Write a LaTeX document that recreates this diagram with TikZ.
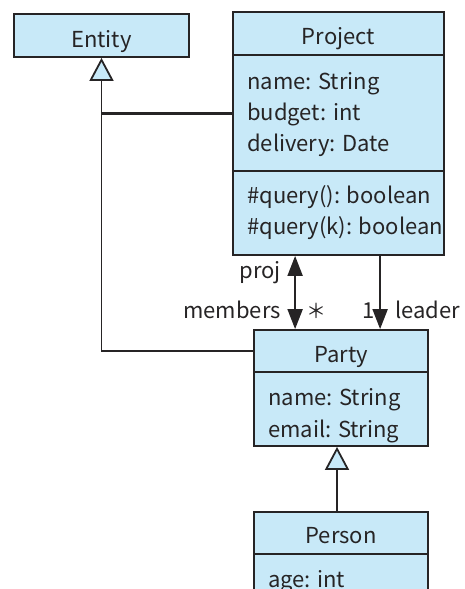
\documentclass[tikz,border=0pt]{standalone}
\usepackage{fontspec}
\setmainfont{Noto Sans CJK JP}
\usetikzlibrary{arrows.meta,calc}
\definecolor{boxfill}{HTML}{C8E9F8}
\definecolor{ink}{HTML}{262425}
\tikzset{
  umlbox/.style={draw=ink, fill=boxfill, line width=1.8pt, rectangle, inner sep=0pt},
  txt/.style={inner sep=0pt, text=ink, font=\fontsize{22}{26}\selectfont},
  lbl/.style={txt, anchor=base},
  attr/.style={txt, anchor=base west},
  gen/.style={draw=ink, line width=1.8pt,
    -{Triangle[width=24pt,length=23pt,fill=boxfill,line width=1.8pt]}},
  assoc/.style={draw=ink, line width=2pt},
  headtip/.tip={Triangle[length=20pt,width=15pt]},
}
\begin{document}
\begin{tikzpicture}[x=1pt,y=-1pt]
\useasboundingbox (0,0) rectangle (465,589);
\clip (0,0) rectangle (465,589);

% class boxes
\node[umlbox, minimum width=175pt, minimum height=43pt] (entity) at (101.5,35.5) {};
\node[umlbox, minimum width=211pt, minimum height=43pt] (projH) at (338.5,33.5) {};
\node[umlbox, minimum width=211pt, minimum height=116pt] (projA) at (338.5,113) {};
\node[umlbox, minimum width=211pt, minimum height=84pt] (projO) at (338.5,213) {};
\node[umlbox, minimum width=174pt, minimum height=42pt] (partyH) at (341,351) {};
\node[umlbox, minimum width=174pt, minimum height=74pt] (partyA) at (341,409) {};
\node[umlbox, minimum width=174pt, minimum height=42pt] (personH) at (341,533) {};
\node[umlbox, minimum width=174pt, minimum height=66pt] (personA) at (341,587) {};

% class names and members
\node[lbl] (tEntity) at (101.5,47) {Entity};
\node[lbl] (tProject) at (338.5,44) {Project};
\node[attr] (pName) at (247,89) {name: String};
\node[attr] (pBudget) at (247,120) {budget: int};
\node[attr] (pDelivery) at (247,151) {delivery: Date};
\node[attr] (pQuery) at (247,203) {\#query(): boolean};
\node[attr] (pQueryK) at (247,234) {\#query(k): boolean};
\node[lbl] (tParty) at (341,362) {Party};
\node[attr] (aName) at (268,405) {name: String};
\node[attr] (aEmail) at (268,437) {email: String};
\node[lbl] (tPerson) at (341,543) {Person};
\node[attr] (aAge) at (268,587) {age: int};

% generalisations
\draw[gen] (partyH.west) -| (entity.south);
\draw[gen] ([xshift=-4pt]personH.north) -- ([xshift=-4pt]partyA.south);
\draw[draw=ink, line width=3pt] (projA.west) -- (projA.west -| entity.south);

% associations
\draw[assoc, headtip-headtip] ($(projO.south west)+(63,0)$) -- ($(partyH.north west)+(42,0)$);
\draw[assoc, -headtip] ($(projO.south west)+(148,0)$) -- ($(partyH.north west)+(127,0)$);

% role names and multiplicities
\node[txt, anchor=base east] (rProj) at (281,278) {proj};
\node[txt, anchor=base east] (rMembers) at (281,318) {members};
\node[txt, anchor=base] (mStar) at (316,318) {\fontsize{20}{20}\selectfont ＊};
\node[txt, anchor=base] (mOne) at (369,318) {1};
\node[txt, anchor=base west] (rLeader) at (395,318) {leader};
\end{tikzpicture}
\end{document}
